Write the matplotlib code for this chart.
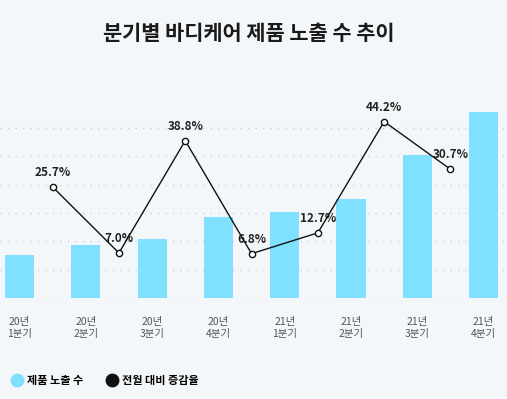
import numpy as np
import matplotlib.pyplot as plt
from matplotlib.lines import Line2D

plt.rcParams['font.family'] = ['Noto Sans CJK KR', 'DejaVu Sans']

# data
quarters = ['20년\n1분기', '20년\n2분기', '20년\n3분기', '20년\n4분기',
            '21년\n1분기', '21년\n2분기', '21년\n3분기', '21년\n4분기']
exposure = [1520, 1870, 2070, 2860, 3040, 3490, 5050, 6580]
growth = [25.7, 7.0, 38.8, 6.8, 12.7, 44.2, 30.7]

bg = '#f4f7f9'
bar_color = '#7fe0ff'

fig = plt.figure(figsize=(5.07, 3.99), dpi=100, facecolor=bg)
ax = fig.add_axes([0, 1 - 298/399, 1, (298 - 99.7)/399])
ax.set_facecolor(bg)

x = np.arange(len(quarters))
ax.bar(x, exposure, width=0.44, color=bar_color, zorder=2)
ax.set_xlim(-0.294, 7.353)
ax.set_ylim(0, 7000)
for yv in range(0, 7000, 1000):
    ax.axhline(yv, color='#c8ccd0', lw=0.9, ls=(0, (1, 5)), zorder=1)

ax.set_xticks(x)
ax.set_xticklabels(quarters, fontsize=7.5, color='#555555', linespacing=1.25,
                   fontweight='light')
ax.tick_params(axis='x', length=0, pad=14)
ax.set_yticks([])
for s in ax.spines.values():
    s.set_visible(False)

ax2 = ax.twinx()
ax2.set_ylim(-5.75, 50.4)
gx = x[:-1] + 0.5
ax2.plot(gx, growth, color='#111111', lw=1.0, marker='o', ms=4.5,
         mfc='white', mec='#111111', mew=1.0, zorder=3)
for xi, g in zip(gx, growth):
    ax2.annotate(f'{g:.1f}%', (xi, g), xytext=(0, 10.5), textcoords='offset points',
                 ha='center', va='center', fontsize=8.5, fontweight='bold',
                 color='#222222', zorder=2)
ax2.set_yticks([])
for s in ax2.spines.values():
    s.set_visible(False)

fig.text(0.49, 0.915, '분기별 바디케어 제품 노출 수 추이', ha='center', va='center',
         fontsize=15, fontweight='bold', color='#1a1a1a')

handles = [Line2D([], [], ls='', marker='o', ms=9, color=bar_color),
           Line2D([], [], ls='', marker='o', ms=9, color='#111111')]
fig.legend(handles, ['제품 노출 수', '전월 대비 증감율'], loc='center left',
           bbox_to_anchor=(0.0, 0.046), ncol=2, frameon=False,
           prop={'size': 8, 'weight': 'bold'}, handletextpad=0.3,
           columnspacing=2.0, handlelength=1.2)

fig.savefig('out.png', dpi=100, facecolor=bg)
